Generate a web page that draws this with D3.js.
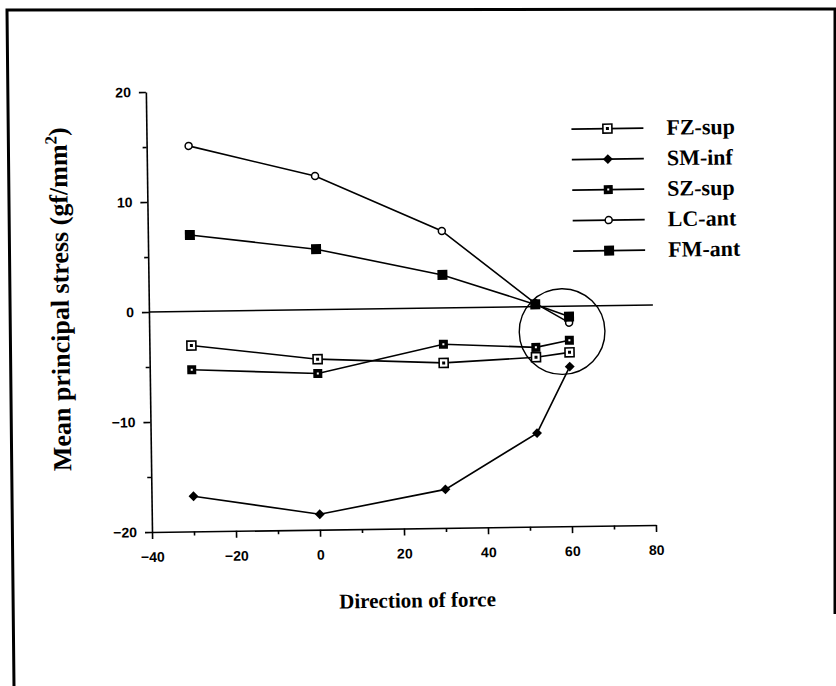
<!DOCTYPE html>
<html>
<head>
<meta charset="utf-8">
<script src="https://cdn.jsdelivr.net/npm/d3@7"></script>
<style>
  body { margin: 0; background: #fff; }
  .tick text { font-family: "Liberation Sans", Arial, sans-serif; font-weight: bold; font-size: 14px; }
</style>
</head>
<body>
<script>
// data
const directions = [-30, 0, 30, 52, 60];
const fzSup = [-3.1, -4.5, -5.0, -4.6, -4.2];
const smInf = [-16.8, -18.6, -16.5, -11.5, -5.5];
const szSup = [-5.3, -5.8, -3.3, -3.7, -3.1];
const lcAnt = [15.05, 12.15, 7.0, 0.3, -1.5];
const fmAnt = [6.95, 5.5, 3.0, 0.2, -0.95];
const seriesNames = ["FZ-sup", "SM-inf", "SZ-sup", "LC-ant", "FM-ant"];
const xTicks = [-40, -20, 0, 20, 40, 60, 80];
const xMinor = [-30, -10, 10, 30, 50, 70];
const yTicks = [-20, -10, 0, 10, 20];
const yMinor = [-15, -5, 5, 15];

const width = 836, height = 686;

const svg = d3.select("body").append("svg")
    .attr("width", width)
    .attr("height", height);

// outer frame of the scanned figure
svg.append("path")
    .attr("d", "M14,686 L7,10 L835,9 L835,614")
    .attr("fill", "none")
    .attr("stroke", "#000")
    .attr("stroke-width", 3);

const x = d3.scaleLinear().domain([-40, 80]).range([152, 656]);
const y = d3.scaleLinear().domain([-20, 20]).range([532, 92]);

// the scan is tilted a little
const g = svg.append("g").attr("transform", "rotate(-0.8,152,532)");

// axes
g.append("g")
    .attr("transform", "translate(" + x(-40) + ",0)")
    .call(d3.axisLeft(y).tickValues(yTicks).tickSize(7).tickSizeOuter(0).tickPadding(8));
g.append("g")
    .attr("transform", "translate(" + x(-40) + ",0)")
    .call(d3.axisLeft(y).tickValues(yMinor).tickSize(4).tickFormat(""))
    .select(".domain").remove();

g.append("g")
    .attr("transform", "translate(0," + y(-20) + ")")
    .call(d3.axisBottom(x).tickValues(xTicks).tickSize(7).tickSizeOuter(0).tickPadding(13));
g.append("g")
    .attr("transform", "translate(0," + y(-20) + ")")
    .call(d3.axisBottom(x).tickValues(xMinor).tickSize(4).tickFormat(""))
    .select(".domain").remove();

g.selectAll(".domain, .tick line").attr("stroke", "#000").attr("stroke-width", 1.6);

// zero line
g.append("line")
    .attr("x1", x(-40)).attr("x2", x(80))
    .attr("y1", y(0)).attr("y2", y(0))
    .attr("stroke", "#000").attr("stroke-width", 1.6);

// axis titles
const yTitle = g.append("text")
    .attr("transform", "translate(72,298) rotate(-90)")
    .attr("text-anchor", "middle")
    .style("font-family", "'Liberation Serif', 'Times New Roman', serif")
    .style("font-weight", "bold")
    .style("font-size", "26px");
yTitle.append("tspan").text("Mean principal stress (gf/mm");
yTitle.append("tspan").attr("dy", -10).style("font-size", "17px").text("2");
yTitle.append("tspan").attr("dy", 10).text(")");

g.append("text")
    .attr("x", x(23)).attr("y", 611)
    .attr("text-anchor", "middle")
    .style("font-family", "'Liberation Serif', 'Times New Roman', serif")
    .style("font-weight", "bold")
    .style("font-size", "21px")
    .text("Direction of force");

// marker shapes
function drawMarker(sel, kind) {
  if (kind === "FZ-sup") {
    sel.append("rect").attr("x", -4.5).attr("y", -4.5).attr("width", 9).attr("height", 9)
        .attr("fill", "#fff").attr("stroke", "#000").attr("stroke-width", 1.6);
    sel.append("rect").attr("x", -1.5).attr("y", -1.5).attr("width", 3).attr("height", 3).attr("fill", "#000");
  } else if (kind === "SM-inf") {
    sel.append("rect").attr("x", -3.5).attr("y", -3.5).attr("width", 7).attr("height", 7)
        .attr("transform", "rotate(45)").attr("fill", "#000");
  } else if (kind === "SZ-sup") {
    sel.append("rect").attr("x", -4.5).attr("y", -4.5).attr("width", 9).attr("height", 9).attr("fill", "#000");
    sel.append("rect").attr("x", -1).attr("y", -1).attr("width", 2).attr("height", 2).attr("fill", "#fff");
  } else if (kind === "LC-ant") {
    sel.append("circle").attr("r", 3.5)
        .attr("fill", "#fff").attr("stroke", "#000").attr("stroke-width", 1.5);
  } else {
    sel.append("rect").attr("x", -5).attr("y", -5).attr("width", 10).attr("height", 10).attr("fill", "#000");
  }
}

const allSeries = [fzSup, smInf, szSup, lcAnt, fmAnt].map(function(vals, i) {
  return {
    name: seriesNames[i],
    values: vals.map(function(v, j) { return {dir: directions[j], stress: v}; })
  };
});

const line = d3.line()
    .x(function(d) { return x(d.dir); })
    .y(function(d) { return y(d.stress); });

allSeries.forEach(function(s) {
  g.append("path")
      .datum(s.values)
      .attr("fill", "none")
      .attr("stroke", "#000")
      .attr("stroke-width", 1.6)
      .attr("d", line);
});

allSeries.forEach(function(s) {
  g.selectAll(null)
      .data(s.values)
      .enter().append("g")
      .attr("transform", function(d) { return "translate(" + x(d.dir) + "," + y(d.stress) + ")"; })
      .each(function() { drawMarker(d3.select(this), s.name); });
});

// highlight circle round the converging points
const ring = {dir: 58.3, stress: -2.3, radius: 10.2};
g.append("circle")
    .attr("cx", x(ring.dir)).attr("cy", y(ring.stress))
    .attr("r", x(ring.radius) - x(0))
    .attr("fill", "none")
    .attr("stroke", "#000")
    .attr("stroke-width", 1.4);

// legend
const legend = g.append("g").attr("transform", "translate(577,135)");
seriesNames.forEach(function(name, i) {
  const row = legend.append("g").attr("transform", "translate(0," + (i * 30.5) + ")");
  row.append("line").attr("x1", 0).attr("x2", 72)
      .attr("stroke", "#000").attr("stroke-width", 1.6);
  drawMarker(row.append("g").attr("transform", "translate(36,0)"), name);
  row.append("text")
      .attr("x", 95).attr("y", 7)
      .style("font-family", "'Liberation Serif', 'Times New Roman', serif")
      .style("font-weight", "bold")
      .style("font-size", "22px")
      .text(name);
});
</script>
</body>
</html>
